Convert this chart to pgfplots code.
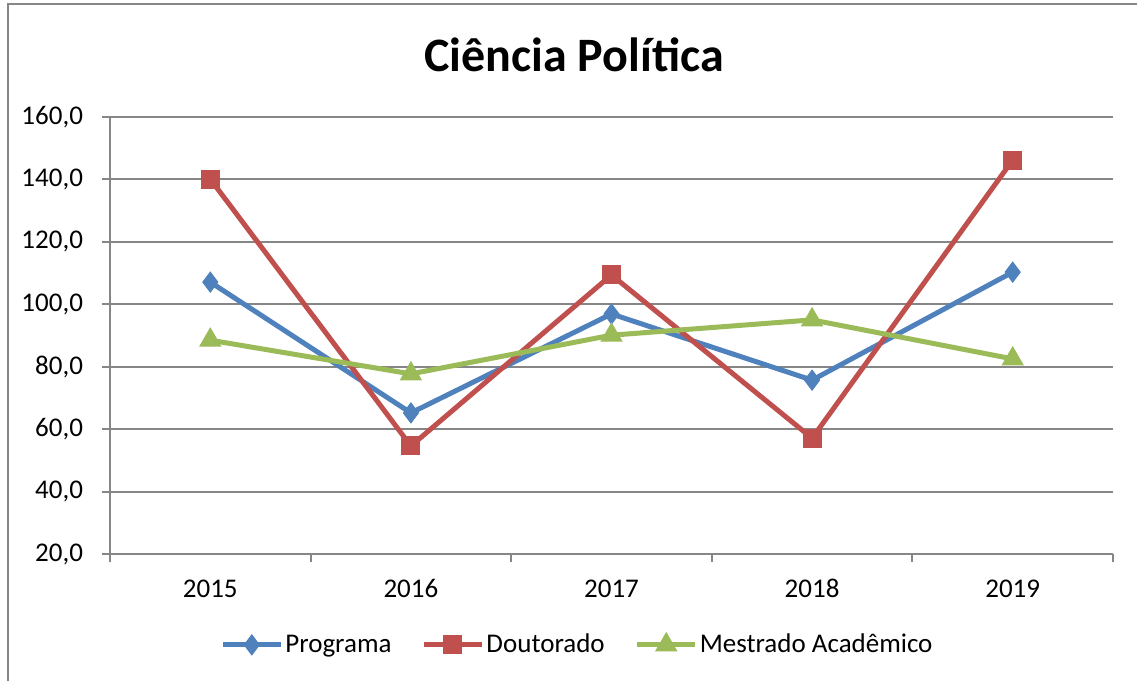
\documentclass[border=0pt]{standalone}
\usepackage{fontspec}
\setmainfont{Carlito}
\usepackage{pgfplots}
\pgfplotsset{compat=1.18}
\definecolor{cblue}{RGB}{79,129,189}
\definecolor{cred}{RGB}{192,80,77}
\definecolor{cgreen}{RGB}{155,187,89}
\definecolor{cgrid}{RGB}{134,134,134}
\begin{document}
\begin{tikzpicture}
\useasboundingbox (0pt,0pt) rectangle (568.5pt,340.5pt);
\draw[cgrid, line width=1pt] (3.75pt,-5pt) -- (3.75pt,338.5pt) -- (575pt,338.5pt);
\node[font=\fontsize{24}{28}\selectfont\bfseries, anchor=base] at (287pt,304.5pt) {Ciência Política};
\begin{axis}[
  at={(55pt,63.5pt)}, anchor=south west,
  scale only axis, width=501.5pt, height=218.5pt,
  xmin=-0.5, xmax=4.5, ymin=20, ymax=160,
  xtick={0,1,2,3,4}, xticklabels={2015,2016,2017,2018,2019},
  major x tick style={draw=none},
  minor xtick={-0.5,0.5,1.5,2.5,3.5,4.5},
  minor x tick style={cgrid, line width=1pt},
  ytick={20,40,...,160},
  ymajorgrids, grid style={cgrid, line width=1pt},
  axis line style={cgrid, line width=1pt},
  axis x line*=bottom, axis y line*=left,
  tick align=outside, major tick length=4pt, minor tick length=4pt,
  y tick style={cgrid, line width=1pt},
  tick label style={font=\fontsize{13.5}{16}\selectfont},
  yticklabel style={xshift=-6pt, /pgf/number format/.cd, fixed, fixed zerofill, precision=1, use comma, assume math mode=true},
  xticklabel style={yshift=-4pt, text height=10pt, text depth=2pt, /pgf/number format/assume math mode=true},
  legend style={at={(0.466,-0.208)}, anchor=center, draw=none, font=\fontsize{13.5}{16}\selectfont,
    nodes={inner xsep=1pt},
    /tikz/every even column/.append style={column sep=14pt}},
  legend columns=3,
  legend image code/.code={\draw[#1] (0pt,0pt) -- (29pt,0pt); \draw[#1, only marks] plot coordinates {(14.5pt,0pt)};},
  clip=false,
]
\addplot[cblue, line width=2.5pt, mark=diamond*, mark size=5pt, mark options={solid, line width=0.5pt}] coordinates {(0,107.1) (1,65.2) (2,96.9) (3,75.7) (4,110.3)};
\addlegendentry{Programa}
\addplot[cred, line width=2.5pt, mark=square*, mark size=4.5pt, mark options={solid, line width=0.5pt}] coordinates {(0,140.1) (1,54.6) (2,109.4) (3,57.1) (4,146.2)};
\addlegendentry{Doutorado}
\addplot[cgreen, line width=2.5pt, mark=triangle*, mark size=6pt, mark options={solid, line width=0.5pt}] coordinates {(0,88.5) (1,77.7) (2,90.1) (3,95.0) (4,82.5)};
\addlegendentry{Mestrado Acadêmico}
\end{axis}
\end{tikzpicture}
\end{document}
